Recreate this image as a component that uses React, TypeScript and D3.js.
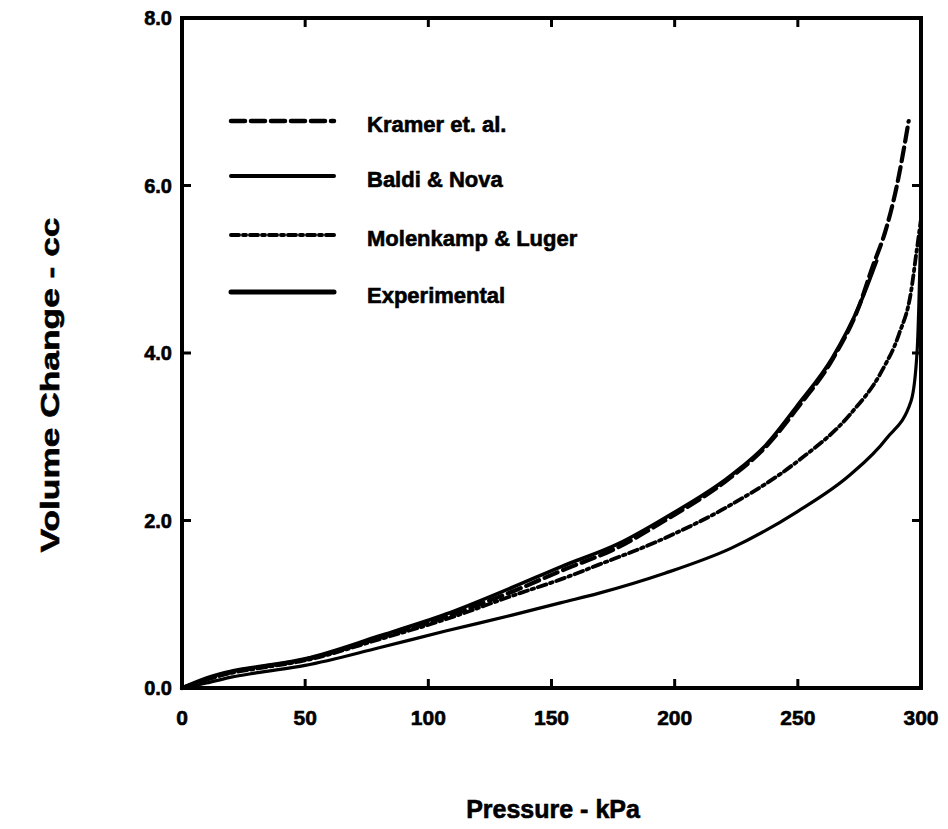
import React from "react";
import * as d3 from "d3";

const xTicks = [0, 50, 100, 150, 200, 250, 300];
const yTicks = [0, 2, 4, 6, 8];

const kramerP = [0, 10, 20, 30, 50, 80, 107, 134, 154, 177, 196, 223, 237, 250, 264, 275, 280, 286, 290, 295];
const kramerV = [0, 0.1, 0.19, 0.24, 0.34, 0.6, 0.85, 1.15, 1.4, 1.68, 2.0, 2.52, 2.88, 3.35, 3.92, 4.57, 5.0, 5.5, 5.97, 6.77];

const baldiP = [0, 10, 20, 30, 50, 80, 107, 134, 154, 177, 196, 223, 237, 250, 264, 275, 282];
const baldiV = [0, 0.12, 0.2, 0.25, 0.35, 0.62, 0.88, 1.2, 1.45, 1.72, 2.03, 2.54, 2.9, 3.38, 3.94, 4.57, 5.1];

const molenP = [0, 10, 20, 30, 50, 80, 107, 134, 154, 169, 196, 223, 250, 271, 284, 291, 296, 298, 300];
const molenV = [0, 0.1, 0.18, 0.23, 0.33, 0.58, 0.82, 1.1, 1.3, 1.47, 1.79, 2.19, 2.71, 3.26, 3.78, 4.22, 4.74, 5.17, 5.6];

const expP = [0, 10, 20, 30, 50, 80, 107, 134, 154, 169, 196, 223, 250, 271, 286, 296, 298.5, 300];
const expV = [0, 0.06, 0.13, 0.18, 0.27, 0.48, 0.68, 0.87, 1.02, 1.13, 1.37, 1.67, 2.11, 2.54, 2.98, 3.43, 4.06, 5.6];

const seriesNames = ["Kramer et. al.", "Baldi & Nova", "Molenkamp & Luger", "Experimental"];

const W = 948;
const H = 829;
const FONT = "'Liberation Sans', Arial, Helvetica, sans-serif";

export default function App() {
  const x = d3.scaleLinear().domain([0, 300]).range([182, 921]);
  const y = d3.scaleLinear().domain([0, 8]).range([688, 18]);

  const line = d3
    .line<[number, number]>()
    .x((d) => x(d[0]))
    .y((d) => y(d[1]))
    .curve(d3.curveMonotoneX);

  const zip = (ps: number[], vs: number[]) => ps.map((p, i) => [p, vs[i]] as [number, number]);

  const series = [
    { name: seriesNames[0], d: line(zip(kramerP, kramerV)), w: 4.2, dash: "14 6" },
    { name: seriesNames[1], d: line(zip(baldiP, baldiV)), w: 3.6, dash: "" },
    { name: seriesNames[2], d: line(zip(molenP, molenV)), w: 3.8, dash: "9 4 2.5 4" },
    { name: seriesNames[3], d: line(zip(expP, expV)), w: 3.2, dash: "" },
  ];

  const legendY = [121, 176, 235, 292];
  const legendW = [4.5, 4, 4, 5];
  const legendDash = ["14 6", "", "8 4 3 4", ""];

  const txt = { fontFamily: FONT, fontWeight: "bold" as const, fill: "#000", stroke: "#000", strokeWidth: 0.6 };

  return (
    <svg width={W} height={H} style={{ display: "block", position: "absolute", left: 0, top: 0, background: "#fff" }}>
      <rect x={0} y={0} width={W} height={H} fill="#fff" />
      <rect
        x={x(0)}
        y={y(8)}
        width={x(300) - x(0)}
        height={y(0) - y(8)}
        fill="none"
        stroke="#000"
        strokeWidth={4}
      />
      {xTicks.slice(1, -1).map((t) => (
        <g key={"xt" + t}>
          <line x1={x(t)} x2={x(t)} y1={y(0)} y2={y(0) - 9} stroke="#000" strokeWidth={3} />
          <line x1={x(t)} x2={x(t)} y1={y(8)} y2={y(8) + 9} stroke="#000" strokeWidth={3} />
        </g>
      ))}
      {yTicks.slice(1, -1).map((t) => (
        <g key={"yt" + t}>
          <line x1={x(0)} x2={x(0) + 9} y1={y(t)} y2={y(t)} stroke="#000" strokeWidth={3} />
          <line x1={x(300)} x2={x(300) - 9} y1={y(t)} y2={y(t)} stroke="#000" strokeWidth={3} />
        </g>
      ))}
      {xTicks.map((t) => (
        <text key={"xl" + t} x={x(t)} y={725} textAnchor="middle" fontSize={21} {...txt}>
          {t}
        </text>
      ))}
      {yTicks.map((t) => (
        <text key={"yl" + t} x={172} y={y(t) + 7} textAnchor="end" fontSize={20} {...txt}>
          {t.toFixed(1)}
        </text>
      ))}
      {series.map((s) => (
        <path
          key={s.name}
          d={s.d || ""}
          fill="none"
          stroke="#000"
          strokeWidth={s.w}
          strokeDasharray={s.dash || undefined}
          strokeLinecap="round"
          strokeLinejoin="round"
        />
      ))}
      {seriesNames.map((n, i) => (
        <g key={"lg" + i}>
          <line
            x1={231}
            x2={334}
            y1={legendY[i]}
            y2={legendY[i]}
            stroke="#000"
            strokeWidth={legendW[i]}
            strokeDasharray={legendDash[i] || undefined}
            strokeLinecap="round"
          />
          <text x={367} y={legendY[i] + 11} fontSize={22} {...txt}>
            {n}
          </text>
        </g>
      ))}
      <text x={553} y={818} textAnchor="middle" fontSize={25} {...txt}>
        Pressure - kPa
      </text>
      <text
        transform="translate(59,385) rotate(-90)"
        textAnchor="middle"
        fontSize={26}
        textLength={335}
        lengthAdjust="spacingAndGlyphs"
        {...txt}
      >
        Volume Change - cc
      </text>
    </svg>
  );
}
